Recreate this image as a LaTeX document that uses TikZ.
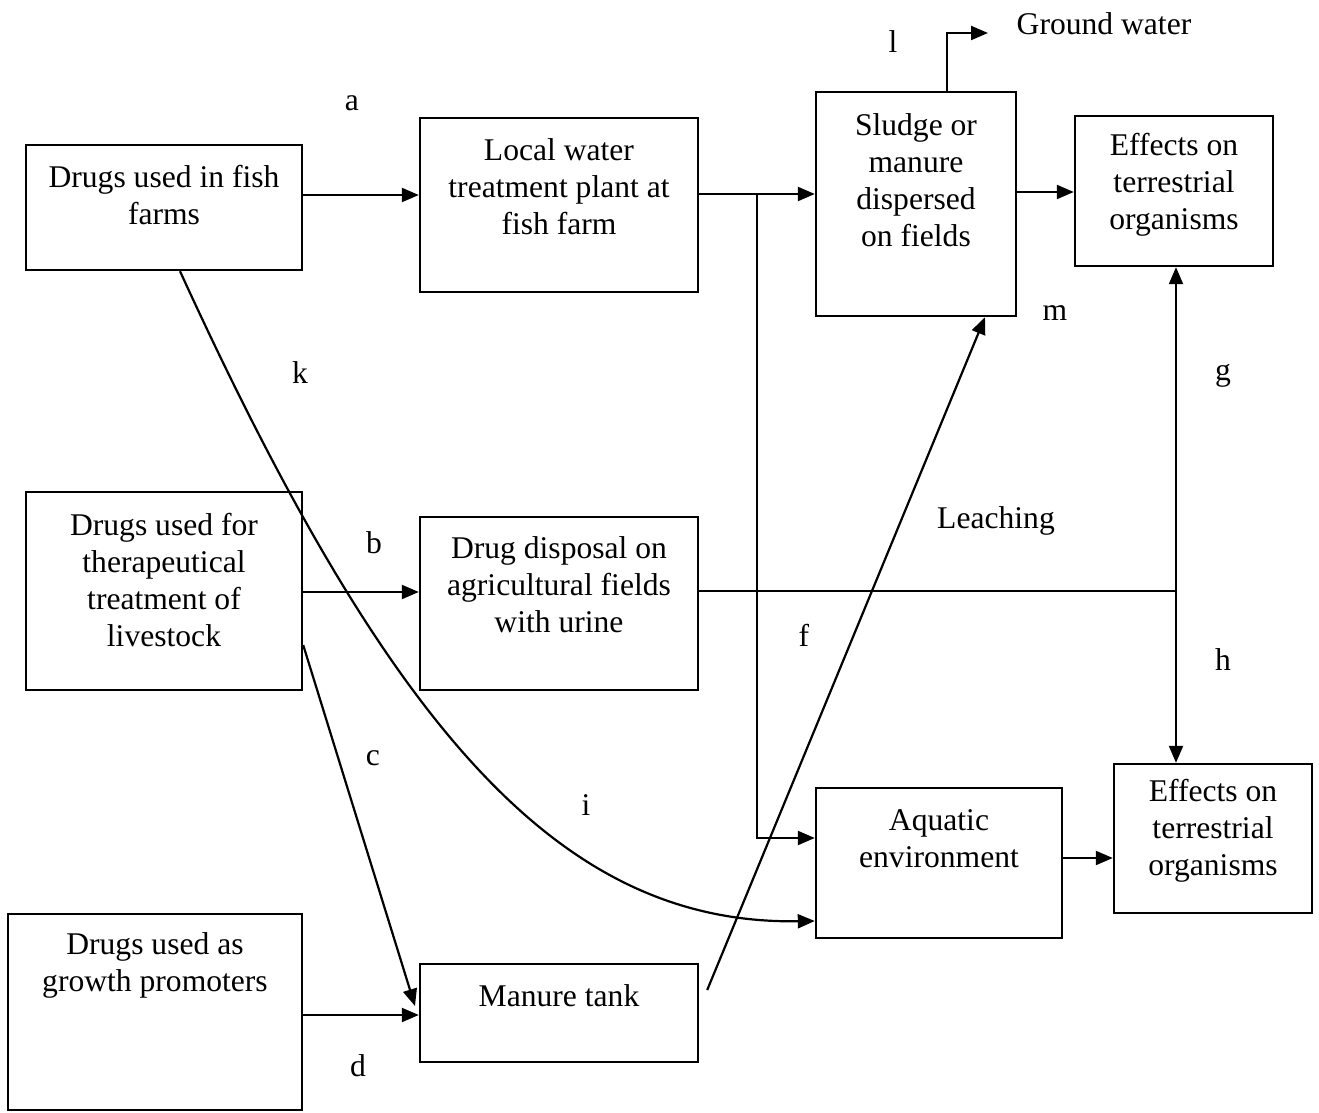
\documentclass[tikz,border=0pt]{standalone}
\usepackage{fontspec}
\setmainfont{Liberation Serif}
\usetikzlibrary{arrows.meta,calc}

\tikzset{
  box/.style={draw,line width=1.2pt,inner sep=0pt},
  txt/.style={align=center,inner sep=0pt,font=\fontsize{15.8}{18.5}\selectfont},
  lbl/.style={inner sep=0pt,font=\fontsize{15.8}{18.5}\selectfont},
  ln/.style={line width=1.1pt},
  arr/.style={line width=1.1pt,-{Triangle[length=8.5pt,width=7pt]}}
}

\begin{document}
\begin{tikzpicture}[x=0.5pt,y=-0.5pt]
\useasboundingbox (0,0) rectangle (1319,1113);

% Drugs used in fish farms
\node[box,minimum width=138pt,minimum height=62.5pt] (fish) at (164,207.5) {};
\node[txt] (t-fish) at (164,195) {Drugs used in fish\\farms};

% Local water treatment plant
\node[box,minimum width=139pt,minimum height=87pt] (local) at (559,205) {};
\node[txt] (t-local) at (559,187) {Local water\\treatment plant at\\fish farm};

% Sludge or manure
\node[box,minimum width=100pt,minimum height=112pt] (sludge) at (916,204) {};
\node[txt] (t-sludge) at (916,180) {Sludge or\\manure\\dispersed\\on fields};

% Effects (top)
\node[box,minimum width=99pt,minimum height=75pt] (efftop) at (1174,191) {};
\node[txt] (t-efftop) at (1174,185) {Effects on\\terrestrial\\organisms};

% Drugs for livestock
\node[box,minimum width=138pt,minimum height=99pt] (therap) at (164,591) {};
\node[txt] (t-therap) at (164,580) {Drugs used for\\therapeutical\\treatment of\\livestock};

% Drug disposal on fields
\node[box,minimum width=139pt,minimum height=86.5pt] (disposal) at (559,603.5) {};
\node[txt] (t-disposal) at (559,585) {Drug disposal on\\agricultural fields\\with urine};

% Aquatic environment
\node[box,minimum width=123pt,minimum height=75pt] (aquatic) at (939,863) {};
\node[txt] (t-aquatic) at (939,839) {Aquatic\\environment};

% Effects (bottom)
\node[box,minimum width=99pt,minimum height=74.5pt] (effbot) at (1213,838.5) {};
\node[txt] (t-effbot) at (1213,831) {Effects on\\terrestrial\\organisms};

% Growth promoters
\node[box,minimum width=147pt,minimum height=98pt] (growth) at (155,1012) {};
\node[txt] (t-growth) at (155,965) {Drugs used as\\growth promoters};

% Manure tank
\node[box,minimum width=139pt,minimum height=49pt] (manure) at (559,1013) {};
\node[txt] (t-manure) at (559,996) {Manure tank};

% branch points
\coordinate (fork) at (757,194);
\coordinate (gw) at (988,33);
\coordinate (leach) at (1176,591);

% arrows
\draw[arr] (fish.east |- 0,195) -- (local.west |- 0,195);
\draw[arr] (local.east |- 0,194) -- (sludge.west |- 0,194);
\draw[arr] (fork) |- (aquatic.west |- 0,838);
\draw[arr] (sludge.east |- 0,192) -- (efftop.west |- 0,192);
\draw[arr] (947,0 |- sludge.north) |- (gw);
\draw[ln] (disposal.east |- leach) -- (leach);
\draw[arr] (leach) -- (efftop.south -| leach);
\draw[arr] (leach) -- (effbot.north -| leach);
\draw[arr] (therap.east |- 0,592) -- (disposal.west |- 0,592);
\draw[arr] (therap.east |- 0,645) -- (415,1006);
\draw[arr] (growth.east |- 0,1015) -- (manure.west |- 0,1015);
\draw[arr] ($(manure.east |- 0,990)+(8,0)$) -- (985,0 |- sludge.south);
\draw[arr] (180,0 |- fish.south) .. controls (390,730) and (560,925) .. (aquatic.west |- 0,921);
\draw[arr] (aquatic.east |- 0,858) -- (effbot.west |- 0,858);

% labels
\node[lbl] (ground) at (1104,24) {Ground water};
\node[lbl] (leaching) at (996,521) {Leaching};
\node[lbl] (la) at (352,103) {a};
\node[lbl] (lb) at (374,543) {b};
\node[lbl] (lc) at (373,758) {c};
\node[lbl] (ld) at (358,1066) {d};
\node[lbl] (lf) at (804,635) {f};
\node[lbl] (lg) at (1223,376) {g};
\node[lbl] (lh) at (1223,660) {h};
\node[lbl] (li) at (586,805) {i};
\node[lbl] (lk) at (300,373) {k};
\node[lbl] (ll) at (893,42) {l};
\node[lbl] (lm) at (1055,313) {m};
\end{tikzpicture}
\end{document}
